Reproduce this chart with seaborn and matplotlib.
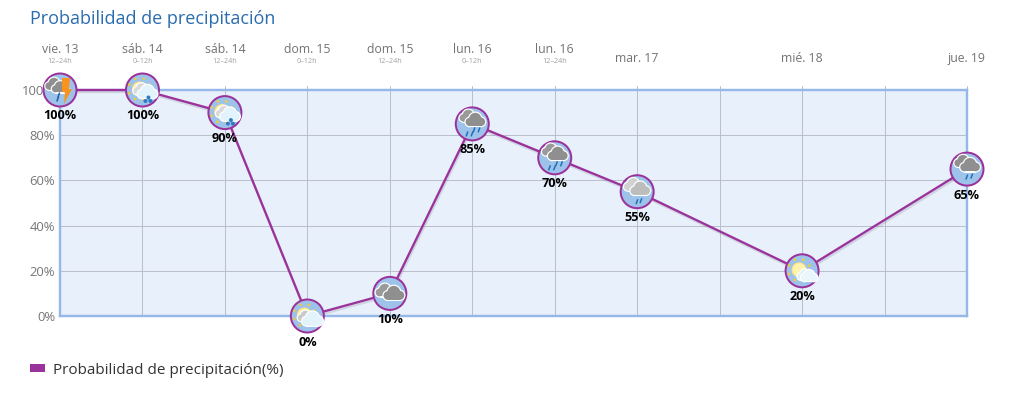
import math
import matplotlib
matplotlib.use("Agg")
import matplotlib.pyplot as plt
import matplotlib.patheffects as pe
from matplotlib.offsetbox import AnnotationBbox, DrawingArea
from matplotlib.patches import Circle, Polygon, Rectangle, Patch
from matplotlib.lines import Line2D
import pandas as pd
import seaborn as sns

# ---- data ----
positions = [0, 1, 2, 3, 4, 5, 6, 7, 9, 11]
probability = [100, 100, 90, 0, 10, 85, 70, 55, 20, 65]
day_labels = ["vie. 13", "sáb. 14", "sáb. 14", "dom. 15", "dom. 15",
              "lun. 16", "lun. 16", "mar. 17", "mié. 18", "jue. 19"]
period_labels = ["12–24h", "0–12h", "12–24h", "0–12h", "12–24h",
                 "0–12h", "12–24h", "", "", ""]
icons = ["storm", "sunsnow", "sunsnow", "partly", "cloudy",
         "rain", "rain", "lightrain", "partly2", "rain2"]
y_ticks = [0, 20, 40, 60, 80, 100]
x_grid = list(range(12))
title_text = "Probabilidad de precipitación"
legend_text = "Probabilidad de precipitación(%)"

W, H, DPI = 1014, 394, 72
PURPLE = "#9B329B"
GRID = "#BBBFCC"
sns.set_theme(style="white")
plt.rcParams["font.family"] = ["Open Sans", "DejaVu Sans"]

fig = plt.figure(figsize=(W / DPI, H / DPI), dpi=DPI, facecolor="white")
ax = fig.add_axes([60 / W, (H - 316) / H, 907 / W, 226 / H])
ax.set_facecolor("#E8F0FB")

df = pd.DataFrame({"pos": positions, "prob": probability})
sns.lineplot(data=df, x="pos", y="prob", ax=ax, color=PURPLE, linewidth=2.3,
             zorder=5, clip_on=False, errorbar=None, estimator=None, sort=False,
             path_effects=[pe.SimpleLineShadow(offset=(1, -2), shadow_color="#8f8f9f", alpha=0.28),
                           pe.Normal()])

ax.set_xlim(0, 11)
ax.set_ylim(0, 100)
ax.set_xlabel("")
ax.set_ylabel("")
ax.set_xticks(x_grid)
ax.set_xticklabels([])
ax.set_yticks(y_ticks)
ax.set_yticklabels([f"{v}%" for v in y_ticks], color="#777777", fontsize=13)
ax.tick_params(axis="y", length=0, pad=5)
ax.tick_params(axis="x", length=0)
ax.grid(True, color=GRID, linewidth=1)
ax.set_axisbelow(True)
for s in ax.spines.values():
    s.set_color("#96B8E8")
    s.set_linewidth(2.4)
    s.set_zorder(3)

xtrans = ax.get_xaxis_transform()
for pos in x_grid:
    ax.plot([pos, pos], [1.0, 1.018], transform=xtrans, color=GRID, lw=1, clip_on=False, zorder=1)

for pos, day, per in zip(positions, day_labels, period_labels):
    yoff = 40 if per else 31
    ax.annotate(day, (pos, 1), xycoords=xtrans, xytext=(0, yoff), textcoords="offset points",
                ha="center", va="center", fontsize=12.2, color="#737373")
    if per:
        ax.annotate(per, (pos, 1), xycoords=xtrans, xytext=(0, 28.5), textcoords="offset points",
                    ha="center", va="center", fontsize=7.2, color="#a0a0a0")


def cloud(da, cx, cy, s, fill, edge="white"):
    blobs = [(-0.62, -0.12, 0.46), (0.0, 0.22, 0.68), (0.62, -0.1, 0.48)]
    for col, extra in ((edge, 1.2), (fill, 0)):
        for dx, dy, r in blobs:
            da.add_artist(Circle((cx + dx * s, cy + dy * s), r * s + extra, fc=col, ec="none"))
        da.add_artist(Rectangle((cx - 0.62 * s, cy - 0.58 * s - extra), 1.24 * s, 0.5 * s + extra, fc=col, ec="none"))


def sun(da, cx, cy, r=7, ray=11.0):
    for k in range(8):
        a = math.radians(45 * k + 22)
        da.add_artist(Circle((cx + ray * math.cos(a), cy + ray * math.sin(a)), 1.3, fc="#F4CC2E", ec="none"))
    da.add_artist(Circle((cx, cy), r, fc="#FFF3B0", ec="#FFE27A", lw=1))


def drops(da, pts, col="#1F6FB8"):
    for x0, y0 in pts:
        da.add_artist(Line2D([x0, x0 + 1.5], [y0, y0 + 4], color=col, lw=1.5))


def flakes(da, pts, col="#2F7CC4"):
    for x0, y0 in pts:
        da.add_artist(Circle((x0, y0), 2, fc=col, ec="none"))


def make_icon(kind):
    da = DrawingArea(36, 36, 0, 0, clip=False)
    c = 18
    da.add_artist(Circle((c, c), 16.5, fc="#9DC3EA", ec=PURPLE, lw=2))
    if kind == "storm":
        cloud(da, 12, 23, 8, "#8F8F8F")
        cloud(da, 18, 20, 7.5, "#8F8F8F")
        da.add_artist(Polygon([(20, 30), (28, 30), (27, 19), (30, 19), (22, 4), (23, 16), (20, 16)],
                              fc="#F7931E", ec="none"))
        drops(da, [(15, 7), (16, 11)], "#1A5FA8")
    elif kind == "sunsnow":
        sun(da, 15, 19)
        cloud(da, 17, 18, 7.5, "#DADADA")
        cloud(da, 23, 15, 9, "#E3F3FB")
        flakes(da, [(21, 7), (26, 7), (24, 10.5)])
    elif kind == "partly":
        sun(da, 15, 19)
        cloud(da, 16, 17, 7, "#C9C9C9")
        cloud(da, 23, 14, 9.5, "#E3F3FB")
    elif kind == "partly2":
        sun(da, 15, 19)
        cloud(da, 21, 13, 7, "#DCEFF9")
        cloud(da, 25, 12, 7.5, "#E9F6FC")
    elif kind == "cloudy":
        cloud(da, 13, 20, 8.5, "#9A9A9A")
        cloud(da, 22, 17, 9.5, "#8F8F8F")
    elif kind == "rain":
        cloud(da, 14, 25, 8, "#9A9A9A")
        cloud(da, 21, 21, 9, "#8F8F8F")
        drops(da, [(12, 6), (17, 6), (19, 10), (24, 10)])
    elif kind == "lightrain":
        cloud(da, 14, 24, 8.5, "#D2D2D2")
        cloud(da, 21, 20, 9, "#BDBDBD")
        drops(da, [(17, 6), (21, 7)])
    elif kind == "rain2":
        cloud(da, 14, 25, 8, "#8F8F8F")
        cloud(da, 21, 21, 9, "#8F8F8F")
        drops(da, [(17, 8), (22, 9)])
    return da


for pos, val, kind in zip(positions, probability, icons):
    ab = AnnotationBbox(make_icon(kind), (pos, val), xycoords="data", frameon=False,
                        pad=0, box_alignment=(0.5, 0.5), annotation_clip=False, zorder=6)
    ax.add_artist(ab)
    ax.annotate(f"{val}%", (pos, val), xytext=(0, -26), textcoords="offset points",
                ha="center", va="center", fontsize=12.6, fontweight="bold", color="black",
                zorder=7, annotation_clip=False)

fig.text(30 / W, 1 - 19 / H, title_text, fontsize=18, color="#2A6CB0", ha="left", va="center")

ax.legend(handles=[Patch(facecolor=PURPLE, edgecolor="none", label=legend_text)],
          loc="center left", bbox_to_anchor=(30 / W, 1 - 370 / H), bbox_transform=fig.transFigure,
          frameon=False, fontsize=15.3, handlelength=0.98, handleheight=0.48, handletextpad=0.5,
          borderpad=0, borderaxespad=0, labelcolor="#333333")

fig.savefig("out.png", dpi=DPI, facecolor="white")
